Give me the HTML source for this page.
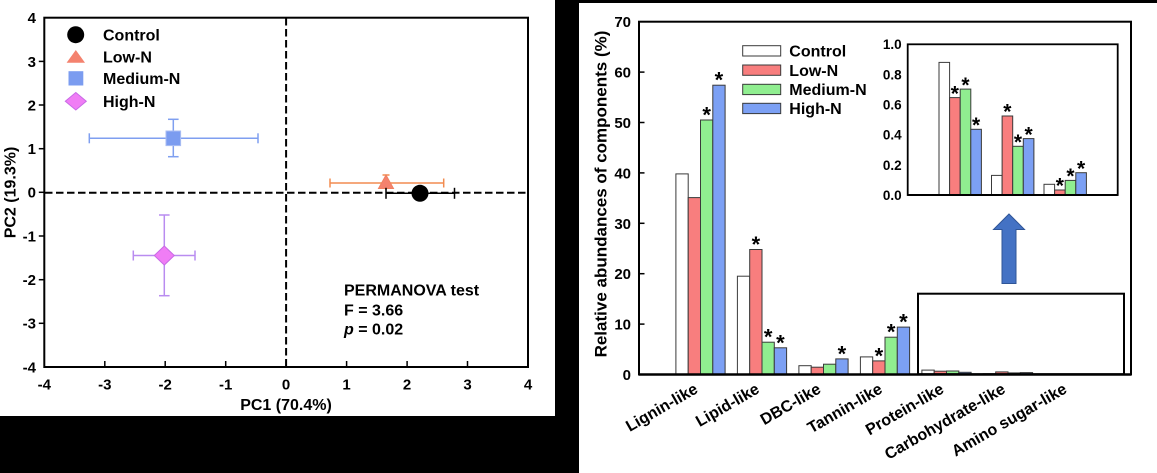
<!DOCTYPE html>
<html><head><meta charset="utf-8"><style>
html,body{margin:0;padding:0;background:#000;}
svg{display:block;}
text{font-family:"Liberation Sans",Arial,sans-serif;font-weight:bold;fill:#000;}
</style></head><body>
<svg width="1157" height="473" viewBox="0 0 1157 473" xmlns="http://www.w3.org/2000/svg">
<rect width="1157" height="473" fill="#000"/>
<rect x="0" y="0" width="555" height="416" fill="#fff"/>
<rect x="579" y="3" width="578" height="470" fill="#fff"/>

<!-- ===== LEFT PCA PLOT ===== -->
<g stroke="#000" stroke-width="2" stroke-dasharray="7.5 3.5">
<line x1="286.1" y1="18" x2="286.1" y2="367"/>
<line x1="45" y1="192.8" x2="527" y2="192.8"/>
</g>
<rect x="44.3" y="17.7" width="483.7" height="349.3" fill="none" stroke="#000" stroke-width="2"/>
<g stroke="#000" stroke-width="1.5">
<line x1="104.8" y1="367" x2="104.8" y2="361"/>
<line x1="165.2" y1="367" x2="165.2" y2="361"/>
<line x1="225.7" y1="367" x2="225.7" y2="361"/>
<line x1="286.1" y1="367" x2="286.1" y2="361"/>
<line x1="346.6" y1="367" x2="346.6" y2="361"/>
<line x1="407.1" y1="367" x2="407.1" y2="361"/>
<line x1="467.5" y1="367" x2="467.5" y2="361"/>
<line x1="44.3" y1="61.4" x2="38.8" y2="61.4"/>
<line x1="44.3" y1="105" x2="38.8" y2="105"/>
<line x1="44.3" y1="148.7" x2="38.8" y2="148.7"/>
<line x1="44.3" y1="192.3" x2="38.8" y2="192.3"/>
<line x1="44.3" y1="236" x2="38.8" y2="236"/>
<line x1="44.3" y1="279.7" x2="38.8" y2="279.7"/>
<line x1="44.3" y1="323.3" x2="38.8" y2="323.3"/>
</g>
<g font-size="15" text-anchor="end">
<text x="36" y="23.1">4</text>
<text x="36" y="66.8">3</text>
<text x="36" y="110.4">2</text>
<text x="36" y="154.1">1</text>
<text x="36" y="197.7">0</text>
<text x="36" y="241.4">-1</text>
<text x="36" y="285.1">-2</text>
<text x="36" y="328.7">-3</text>
<text x="36" y="372.4">-4</text>
</g>
<g font-size="15" text-anchor="middle">
<text x="44.3" y="389.5">-4</text>
<text x="104.8" y="389.5">-3</text>
<text x="165.2" y="389.5">-2</text>
<text x="225.7" y="389.5">-1</text>
<text x="286.1" y="389.5">0</text>
<text x="346.6" y="389.5">1</text>
<text x="407.1" y="389.5">2</text>
<text x="467.5" y="389.5">3</text>
<text x="528" y="389.5">4</text>
</g>
<text x="286" y="410" font-size="16" text-anchor="middle">PC1 (70.4%)</text>
<text x="0" y="0" font-size="16" text-anchor="middle" transform="translate(15.5,192.5) rotate(-90)">PC2 (19.3%)</text>

<!-- Medium-N -->
<g stroke="#7f9ff0" stroke-width="1.5" fill="none">
<line x1="89.3" y1="138.3" x2="258" y2="138.3"/>
<line x1="89.3" y1="133.3" x2="89.3" y2="143.3"/>
<line x1="258" y1="133.3" x2="258" y2="143.3"/>
<line x1="173.3" y1="119.3" x2="173.3" y2="156.7"/>
<line x1="168" y1="119.3" x2="178.6" y2="119.3"/>
<line x1="168" y1="156.7" x2="178.6" y2="156.7"/>
</g>
<rect x="166" y="131" width="14.6" height="14.6" fill="#7b9cf0" stroke="#a9bdf3" stroke-width="1"/>
<!-- High-N -->
<g stroke="#b98cf0" stroke-width="1.5" fill="none">
<line x1="133.3" y1="255.5" x2="195" y2="255.5"/>
<line x1="133.3" y1="250.5" x2="133.3" y2="260.5"/>
<line x1="195" y1="250.5" x2="195" y2="260.5"/>
<line x1="164.3" y1="215" x2="164.3" y2="295.7"/>
<line x1="159" y1="215" x2="169.6" y2="215"/>
<line x1="159" y1="295.7" x2="169.6" y2="295.7"/>
</g>
<polygon points="164.3,246 174.3,255.5 164.3,265 154.3,255.5" fill="#f07df5" stroke="#c86ae6" stroke-width="1"/>
<!-- Low-N -->
<g stroke="#f28c50" stroke-width="1.5" fill="none">
<line x1="330" y1="183" x2="443.7" y2="183"/>
<line x1="330" y1="178.5" x2="330" y2="187.5"/>
<line x1="443.7" y1="178.5" x2="443.7" y2="187.5"/>
<line x1="386" y1="175" x2="386" y2="190"/>
<line x1="382.5" y1="175" x2="389.5" y2="175"/>
</g>
<polygon points="386,175 393.5,188.5 378.5,188.5" fill="#f4826e" stroke="#f08060" stroke-width="1"/>
<!-- Control -->
<g stroke="#000" stroke-width="1.5">
<line x1="386" y1="193.3" x2="454.5" y2="193.3"/>
<line x1="386" y1="187.8" x2="386" y2="198.8"/>
<line x1="454.5" y1="187.8" x2="454.5" y2="198.8"/>
</g>
<circle cx="420" cy="193.3" r="8.5" fill="#000"/>

<!-- legend left -->
<circle cx="75.7" cy="34.7" r="8.5" fill="#000"/>
<polygon points="75.8,50 85,62.7 66.6,62.7" fill="#f4826e"/>
<rect x="68.5" y="71.2" width="14.8" height="14.3" fill="#7b9cf0"/>
<polygon points="75.8,92.5 86.3,101.3 75.8,110 65.3,101.3" fill="#f07df5" stroke="#c86ae6" stroke-width="1"/>
<g font-size="16">
<text x="103" y="40.7">Control</text>
<text x="103" y="62.7">Low-N</text>
<text x="103" y="83.8">Medium-N</text>
<text x="103" y="107">High-N</text>
</g>

<text x="344" y="295.7" font-size="16">PERMANOVA test</text>
<text x="344" y="315.7" font-size="16">F = 3.66</text>
<text x="344" y="334.5" font-size="16"><tspan font-style="italic">p</tspan> = 0.02</text>

<!-- ===== RIGHT BAR CHART ===== -->
<rect x="639" y="21.7" width="492" height="352.8" fill="none" stroke="#000" stroke-width="2"/>
<g stroke="#000" stroke-width="1.5">
<line x1="639" y1="324.1" x2="644.5" y2="324.1"/>
<line x1="639" y1="273.7" x2="644.5" y2="273.7"/>
<line x1="639" y1="223.3" x2="644.5" y2="223.3"/>
<line x1="639" y1="172.9" x2="644.5" y2="172.9"/>
<line x1="639" y1="122.5" x2="644.5" y2="122.5"/>
<line x1="639" y1="72.1" x2="644.5" y2="72.1"/>
</g>
<g font-size="15" text-anchor="end">
<text x="631" y="27.2">70</text>
<text x="631" y="77.6">60</text>
<text x="631" y="128">50</text>
<text x="631" y="178.4">40</text>
<text x="631" y="228.8">30</text>
<text x="631" y="279.2">20</text>
<text x="631" y="329.6">10</text>
<text x="631" y="380">0</text>
</g>
<text x="0" y="0" font-size="17" text-anchor="middle" transform="translate(606.5,194) rotate(-90)">Relative abundances of components (%)</text>

<g stroke="#3a3a3a" stroke-width="1">
<!-- Lignin -->
<rect x="675.9" y="173.9" width="12.3" height="200.6" fill="#fff"/>
<rect x="688.2" y="197.6" width="12.3" height="176.9" fill="#f87e7e"/>
<rect x="700.5" y="120" width="12.3" height="254.5" fill="#90ee90"/>
<rect x="712.8" y="85.2" width="12.3" height="289.3" fill="#7ca0f4"/>
<!-- Lipid -->
<rect x="737.4" y="276.2" width="12.3" height="98.3" fill="#fff"/>
<rect x="749.7" y="249.5" width="12.3" height="125" fill="#f87e7e"/>
<rect x="762" y="342.2" width="12.3" height="32.3" fill="#90ee90"/>
<rect x="774.3" y="347.8" width="12.3" height="26.7" fill="#7ca0f4"/>
<!-- DBC -->
<rect x="798.9" y="365.7" width="12.3" height="8.8" fill="#fff"/>
<rect x="811.2" y="367.2" width="12.3" height="7.3" fill="#f87e7e"/>
<rect x="823.5" y="364.2" width="12.3" height="10.3" fill="#90ee90"/>
<rect x="835.8" y="358.9" width="12.3" height="15.6" fill="#7ca0f4"/>
<!-- Tannin -->
<rect x="860.4" y="356.9" width="12.3" height="17.6" fill="#fff"/>
<rect x="872.7" y="360.9" width="12.3" height="13.6" fill="#f87e7e"/>
<rect x="885" y="337.2" width="12.3" height="37.3" fill="#90ee90"/>
<rect x="897.3" y="327.1" width="12.3" height="47.4" fill="#7ca0f4"/>
<!-- Protein -->
<rect x="921.9" y="370.1" width="12.3" height="4.4" fill="#fff"/>
<rect x="934.2" y="371.2" width="12.3" height="3.3" fill="#f87e7e"/>
<rect x="946.5" y="371" width="12.3" height="3.5" fill="#90ee90"/>
<rect x="958.8" y="372.3" width="12.3" height="2.2" fill="#7ca0f4"/>
<!-- Carbohydrate -->
<rect x="983.4" y="373.8" width="12.3" height="0.7" fill="#fff"/>
<rect x="995.7" y="371.9" width="12.3" height="2.6" fill="#f87e7e"/>
<rect x="1008" y="372.9" width="12.3" height="1.6" fill="#90ee90"/>
<rect x="1020.3" y="372.6" width="12.3" height="1.9" fill="#7ca0f4"/>
</g>
<line x1="639" y1="374.5" x2="1131" y2="374.5" stroke="#000" stroke-width="2.5"/>

<g font-size="22" text-anchor="middle">
<text x="706.65" y="122.5">*</text>
<text x="718.95" y="87.7">*</text>
<text x="755.85" y="252">*</text>
<text x="768.15" y="344.7">*</text>
<text x="780.45" y="350.3">*</text>
<text x="841.95" y="361.4">*</text>
<text x="878.85" y="363.4">*</text>
<text x="891.15" y="339.7">*</text>
<text x="903.45" y="329.6">*</text>
</g>

<!-- legend right -->
<g stroke="#3a3a3a" stroke-width="1">
<rect x="742.7" y="45.7" width="38" height="10.3" fill="#fff"/>
<rect x="742.7" y="65" width="38" height="10.3" fill="#f87e7e"/>
<rect x="742.7" y="84.3" width="38" height="10.3" fill="#90ee90"/>
<rect x="742.7" y="103.3" width="38" height="10.3" fill="#7ca0f4"/>
</g>
<g font-size="16">
<text x="789.3" y="56.5">Control</text>
<text x="789.3" y="75.9">Low-N</text>
<text x="789.3" y="95.2">Medium-N</text>
<text x="789.3" y="114.2">High-N</text>
</g>

<!-- inset -->
<rect x="907.7" y="44.3" width="210" height="150.7" fill="none" stroke="#000" stroke-width="1.8"/>
<g font-size="13.5" text-anchor="end">
<text x="901.7" y="49.2">1.0</text>
<text x="901.7" y="79.3">0.8</text>
<text x="901.7" y="109.5">0.6</text>
<text x="901.7" y="139.6">0.4</text>
<text x="901.7" y="169.8">0.2</text>
<text x="901.7" y="199.9">0.0</text>
</g>
<g stroke="#3a3a3a" stroke-width="1">
<rect x="939" y="62.4" width="10.6" height="132.6" fill="#fff"/>
<rect x="949.6" y="97.6" width="10.6" height="97.4" fill="#f87e7e"/>
<rect x="960.2" y="89.1" width="10.6" height="105.9" fill="#90ee90"/>
<rect x="970.8" y="129.3" width="10.6" height="65.7" fill="#7ca0f4"/>
<rect x="991.5" y="175.4" width="10.6" height="19.6" fill="#fff"/>
<rect x="1002.1" y="116" width="10.6" height="79" fill="#f87e7e"/>
<rect x="1012.7" y="146.3" width="10.6" height="48.7" fill="#90ee90"/>
<rect x="1023.3" y="138.6" width="10.6" height="56.4" fill="#7ca0f4"/>
<rect x="1044" y="184.3" width="10.6" height="10.7" fill="#fff"/>
<rect x="1054.6" y="190" width="10.6" height="5" fill="#f87e7e"/>
<rect x="1065.2" y="180.4" width="10.6" height="14.6" fill="#90ee90"/>
<rect x="1075.8" y="172.7" width="10.6" height="22.3" fill="#7ca0f4"/>
</g>
<line x1="907.7" y1="195" x2="1117.7" y2="195" stroke="#000" stroke-width="2"/>
<g font-size="21" text-anchor="middle">
<text x="954.9" y="100.3">*</text>
<text x="965.5" y="91.8">*</text>
<text x="976.1" y="132">*</text>
<text x="1007.4" y="118.7">*</text>
<text x="1018" y="149">*</text>
<text x="1028.6" y="141.3">*</text>
<text x="1059.9" y="192.7">*</text>
<text x="1070.5" y="183.1">*</text>
<text x="1081.1" y="175.4">*</text>
</g>

<!-- arrow -->
<polygon points="1009,214 1024.5,229.5 1016,229.5 1016,283.5 1002,283.5 1002,229.5 993.5,229.5" fill="#4472c4" stroke="#2f5597" stroke-width="1"/>

<!-- small box -->
<rect x="918" y="293.7" width="206" height="80.5" fill="none" stroke="#000" stroke-width="2"/>

<!-- category labels -->
<g font-size="16" text-anchor="end">
<text x="0" y="0" transform="translate(699,392) rotate(-30)">Lignin-like</text>
<text x="0" y="0" transform="translate(760.5,392) rotate(-30)">Lipid-like</text>
<text x="0" y="0" transform="translate(822,392) rotate(-30)">DBC-like</text>
<text x="0" y="0" transform="translate(883.5,392) rotate(-30)">Tannin-like</text>
<text x="0" y="0" transform="translate(945,392) rotate(-30)">Protein-like</text>
<text x="0" y="0" transform="translate(1006.5,392) rotate(-30)">Carbohydrate-like</text>
<text x="0" y="0" transform="translate(1068,392) rotate(-30)">Amino sugar-like</text>
</g>
</svg>
</body></html>
